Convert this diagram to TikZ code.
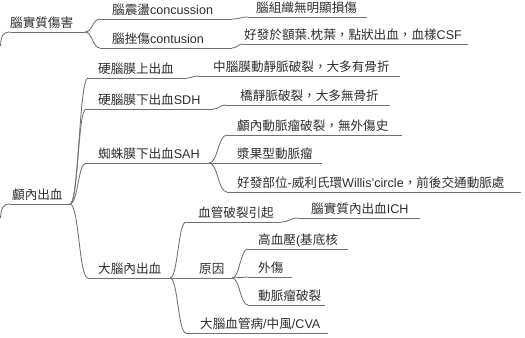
\documentclass[tikz,border=0pt]{standalone}
\usepackage{fontspec}
\setmainfont{Liberation Sans}
\newfontfamily\cjk{Noto Sans CJK TC}
\usetikzlibrary{calc}
\definecolor{linegray}{HTML}{707070}
\definecolor{textgray}{HTML}{2E2E2E}
\newcommand\topic[6]{%
  \coordinate (#1-s) at (#2,#4);
  \coordinate (#1-e) at (#3,#4);
  \node[txt] (#1) at (#5,#4-5) {#6};
  \draw[ln] (#1-s) -- (#1-e);
}
\newcommand\link[2]{%
  \draw[ln] let \p1=(#1-e), \p2=(#2-s) in
    (\p1) .. controls ({0.5*\x1+0.5*\x2},\y1) and ({0.5*\x1+0.5*\x2},\y2) .. (\p2);
}
\begin{document}
\begin{tikzpicture}[x=1bp,y=-1bp,
  ln/.style={draw=linegray, line width=0.85bp},
  txt/.style={anchor=base west, inner sep=0pt, text=textgray,
    font=\fontsize{12.6bp}{14bp}\selectfont}]
\useasboundingbox (0,0) rectangle (525,337);

% left level
\topic{brain}{10}{85}{32}{10}{\cjk 腦實質傷害}
\topic{icb}{10}{70}{204}{12}{\cjk 顱內出血}
\coordinate (offA) at (0.5,46);
\coordinate (offB) at (0.5,218);
\draw[ln] (offA) .. controls (1,36) and (3,32) .. (brain-s);
\draw[ln] (offB) .. controls (1,208) and (3,204) .. (icb-s);

% brain damage
\topic{conc}{100}{232}{19}{112}{{\cjk 腦震盪}concussion}
\topic{cont}{100}{232}{48}{112}{{\cjk 腦挫傷}contusion}
\topic{concA}{248}{367}{17}{256}{\cjk 腦組織無明顯損傷}
\topic{contA}{243}{468}{44}{244}{{\cjk 好發於額葉}.{\cjk 枕葉，點狀出血，血樣}CSF}
\link{brain}{conc}
\link{brain}{cont}
\link{conc}{concA}
\link{cont}{contA}

% intracranial bleeding
\topic{edh}{88}{187}{78}{98}{\cjk 硬腦膜上出血}
\topic{sdh}{86}{213}{109}{98}{{\cjk 硬腦膜下出血}SDH}
\topic{sah}{86}{209}{163}{98}{{\cjk 蜘蛛膜下出血}SAH}
\topic{ich}{88}{170}{278}{98}{\cjk 大腦內出血}
\link{icb}{edh}
\link{icb}{sdh}
\link{icb}{sah}
\link{icb}{ich}

\topic{edhA}{198}{400}{76}{213}{\cjk 中腦膜動靜脈破裂，大多有骨折}
\link{edh}{edhA}
\topic{sdhA}{226}{390}{105}{240}{\cjk 橋靜脈破裂，大多無骨折}
\link{sdh}{sdhA}

\topic{sahA}{227}{402}{135}{237}{\cjk 顱內動脈瘤破裂，無外傷史}
\topic{sahB}{227}{322}{163}{237}{\cjk 漿果型動脈瘤}
\topic{sahC}{227}{521}{192}{237}{{\cjk 好發部位}-{\cjk 威利氏環}Willis'circle{\cjk ，前後交通動脈處}}
\link{sah}{sahA}
\link{sah}{sahB}
\link{sah}{sahC}

\topic{vessel}{186}{281}{222}{198}{\cjk 血管破裂引起}
\topic{cause}{186}{232}{278}{199}{\cjk 原因}
\topic{cva}{186}{328}{333}{200}{{\cjk 大腦血管病}/{\cjk 中風}/CVA}
\link{ich}{vessel}
\link{ich}{cause}
\link{ich}{cva}

\topic{vesselA}{298}{420}{218}{311}{{\cjk 腦實質內出血}ICH}
\link{vessel}{vesselA}

\topic{causeA}{248}{348}{249}{258}{{\cjk 高血壓}({\cjk 基底核}}
\topic{causeB}{248}{292}{277}{258}{\cjk 外傷}
\topic{causeC}{248}{325}{305}{258}{\cjk 動脈瘤破裂}
\link{cause}{causeA}
\link{cause}{causeB}
\link{cause}{causeC}
\end{tikzpicture}
\end{document}
